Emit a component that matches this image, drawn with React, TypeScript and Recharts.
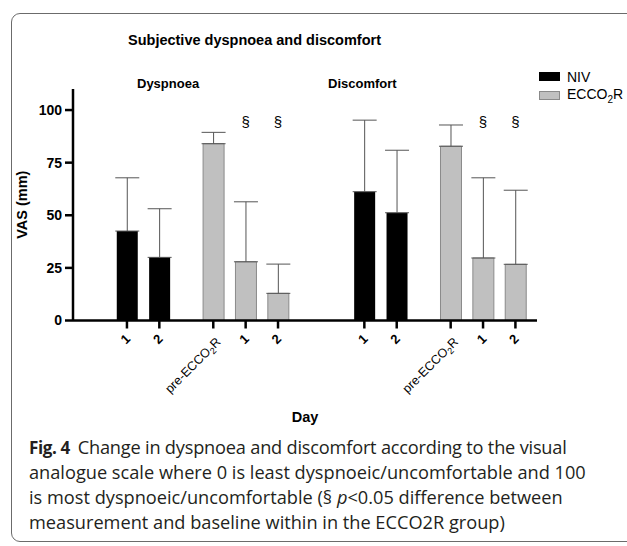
import React from 'react';
import {
    BarChart,
    Bar,
    XAxis,
    YAxis,
    ErrorBar,
    ReferenceDot,
    Legend
} from 'recharts';

const panels = ['Dyspnoea', 'Discomfort'];
const seriesNames = ['NIV', 'ECCO2R'];
const dayLabels = ['1', '2', 'pre-ECCO2R', '1', '2'];
const dayGroups = ['NIV', 'NIV', 'ECCO2R', 'ECCO2R', 'ECCO2R'];
const dyspnoeaMean = [42.5, 30.0, 84.0, 27.9, 12.9];
const dyspnoeaSD = [25.3, 23.1, 5.4, 28.5, 13.9];
const discomfortMean = [61.2, 51.2, 82.8, 29.7, 26.7];
const discomfortSD = [34.0, 29.7, 10.1, 38.1, 35.2];
const significant = [false, false, false, true, true];
const yTicks = [0, 25, 50, 75, 100];

const FONT = '"Liberation Sans", Arial, Helvetica, sans-serif';
const NIV_FILL = '#000000';
const ECCO_FILL = '#c0c0c0';
const ECCO_STROKE = '#8a8a8a';
const ERR_COLOR = '#555555';

// slot layout on the numeric x axis (grid units)
const FIRST = 5;
const STEP = 3;
const GROUP_GAP = 5;
const PANEL_SPAN = 22;
const X_MAX = 43;
const SIG_Y = 94.5;

const slotPos = (panel: number, i: number) =>
    FIRST + panel * PANEL_SPAN + i * STEP + (i >= 2 ? GROUP_GAP - STEP : 0);

const means = [dyspnoeaMean, discomfortMean];
const sds = [dyspnoeaSD, discomfortSD];

const rows = panels.flatMap((_, p) =>
    dayLabels.map((label, i) => {
        const isNiv = dayGroups[i] === 'NIV';
        return {
            pos: slotPos(p, i),
            label,
            niv: isNiv ? means[p][i] : null,
            nivErr: isNiv ? [0, sds[p][i]] : null,
            ecco: !isNiv ? means[p][i] : null,
            eccoErr: !isNiv ? [0, sds[p][i]] : null,
            sig: significant[i]
        };
    })
);

const tickPositions = rows.map((r) => r.pos);
const labelAt = new Map(rows.map((r) => [r.pos, r.label]));

function DayTick(props: any) {
    const { x, y, payload } = props;
    const label = labelAt.get(payload.value) || '';
    if (label.startsWith('pre-')) {
        const ax = x + 5;
        const ay = y + 9;
        return (
            <text
                x={ax}
                y={ay}
                dy="0.35em"
                textAnchor="end"
                transform={`rotate(-45 ${ax} ${ay})`}
                fontFamily={FONT}
                fontSize={12.5}
                fill="#000"
            >
                <tspan>pre-ECCO</tspan>
                <tspan fontSize={9} dy={3}>2</tspan>
                <tspan dy={-3}>R</tspan>
            </text>
        );
    }
    const ax = x + 1;
    const ay = y + 6;
    return (
        <text
            x={ax}
            y={ay}
            dy="0.35em"
            textAnchor="end"
            transform={`rotate(-45 ${ax} ${ay})`}
            fontFamily={FONT}
            fontSize={13}
            fontWeight="bold"
            fill="#000"
        >
            {label}
        </text>
    );
}

function SeriesName({ name }: { name: string }) {
    if (name === 'ECCO2R') {
        return (
            <span>
                ECCO<sub style={{ fontSize: 10 }}>2</sub>R
            </span>
        );
    }
    return <span>{name}</span>;
}

function renderLegend(props: any) {
    const items = [...(props.payload || [])].sort(
        (a: any, b: any) => seriesNames.indexOf(a.value) - seriesNames.indexOf(b.value)
    );
    return (
        <div style={{ fontFamily: FONT, fontSize: 14, color: '#000' }}>
            {items.map((entry: any) => {
                const isNiv = entry.value === 'NIV';
                return (
                    <div
                        key={entry.value}
                        style={{ display: 'flex', alignItems: 'center', height: 19, whiteSpace: 'nowrap' }}
                    >
                        <div
                            style={{
                                width: 21,
                                height: 9,
                                boxSizing: 'border-box',
                                background: isNiv ? NIV_FILL : ECCO_FILL,
                                border: `1px solid ${isNiv ? NIV_FILL : ECCO_STROKE}`,
                                marginRight: 7
                            }}
                        />
                        <SeriesName name={entry.value} />
                    </div>
                );
            })}
        </div>
    );
}

const sectionMark = (p: any) => (
    <text
        x={p.cx}
        y={p.cy}
        textAnchor="middle"
        dominantBaseline="central"
        fontFamily={FONT}
        fontSize={15}
        fill="#000"
    >
        §
    </text>
);

export default function App() {
    return (
        <div
            style={{
                position: 'absolute',
                left: 0,
                top: 0,
                width: 627,
                height: 546,
                overflow: 'hidden',
                background: '#fff'
            }}
        >
            {/* figure frame */}
            <div
                style={{
                    position: 'absolute',
                    left: 11,
                    top: 13,
                    width: 700,
                    height: 527,
                    border: '1px solid #6b6b6b',
                    borderRadius: 9
                }}
            />

            <div
                style={{
                    position: 'absolute',
                    left: 0,
                    top: 33,
                    width: 509,
                    textAlign: 'center',
                    fontFamily: FONT,
                    fontWeight: 'bold',
                    fontSize: 14.5,
                    lineHeight: '14.5px',
                    color: '#000'
                }}
            >
                Subjective dyspnoea and discomfort
            </div>
            <div style={{ position: 'absolute', left: 137, top: 77, fontFamily: FONT, fontWeight: 'bold', fontSize: 13, lineHeight: '13px' }}>
                {panels[0]}
            </div>
            <div style={{ position: 'absolute', left: 328, top: 77, fontFamily: FONT, fontWeight: 'bold', fontSize: 13, lineHeight: '13px' }}>
                {panels[1]}
            </div>

            <div style={{ position: 'absolute', left: 0, top: 0 }}>
                <BarChart
                    width={627}
                    height={546}
                    data={rows}
                    margin={{ top: 89, right: 90, bottom: 125.5, left: 13 }}
                >
                    <XAxis
                        type="number"
                        dataKey="pos"
                        domain={[0, X_MAX]}
                        ticks={tickPositions}
                        interval={0}
                        height={100}
                        stroke="#000"
                        axisLine={{ stroke: '#000', strokeWidth: 2.5 }}
                        tickLine={{ stroke: '#000', strokeWidth: 2.5 }}
                        tickSize={8}
                        tick={<DayTick />}
                        label={{
                            value: 'Day',
                            position: 'insideBottom',
                            offset: -1,
                            style: { fontFamily: FONT, fontWeight: 'bold', fontSize: 14.5, fill: '#000' }
                        }}
                    />
                    <YAxis
                        type="number"
                        domain={[0, 110]}
                        ticks={yTicks}
                        width={60}
                        axisLine={{ stroke: '#000', strokeWidth: 2.5 }}
                        tickLine={{ stroke: '#000', strokeWidth: 2.5 }}
                        tickSize={8}
                        tickMargin={3}
                        tick={{ fill: '#000', fontSize: 14, fontWeight: 'bold', fontFamily: FONT }}
                        label={{
                            value: 'VAS (mm)',
                            angle: -90,
                            position: 'insideLeft',
                            offset: 9,
                            style: { textAnchor: 'middle', fontFamily: FONT, fontWeight: 'bold', fontSize: 14.5, fill: '#000' }
                        }}
                    />
                    <Legend
                        layout="vertical"
                        align="center"
                        verticalAlign="middle"
                        wrapperStyle={{ left: 539, top: 67, width: 120 }}
                        content={renderLegend}
                    />
                    <Bar dataKey="niv" name="NIV" stackId="a" fill={NIV_FILL} barSize={21} isAnimationActive={false}>
                        <ErrorBar dataKey="nivErr" direction="y" width={12} stroke={ERR_COLOR} strokeWidth={1} />
                    </Bar>
                    <Bar
                        dataKey="ecco"
                        name="ECCO2R"
                        stackId="a"
                        fill={ECCO_FILL}
                        stroke={ECCO_STROKE}
                        strokeWidth={1}
                        barSize={21}
                        isAnimationActive={false}
                    >
                        <ErrorBar dataKey="eccoErr" direction="y" width={12} stroke={ERR_COLOR} strokeWidth={1} />
                    </Bar>
                    {rows
                        .filter((r) => r.sig)
                        .map((r) => (
                            <ReferenceDot
                                key={`sig-${r.pos}`}
                                x={r.pos}
                                y={SIG_Y}
                                r={0}
                                ifOverflow="visible"
                                shape={sectionMark}
                            />
                        ))}
                </BarChart>
            </div>

            <div
                style={{
                    position: 'absolute',
                    left: 29,
                    top: 435,
                    fontFamily: '"Open Sans", sans-serif',
                    fontSize: 18.2,
                    lineHeight: '25px',
                    color: '#231f20',
                    whiteSpace: 'nowrap'
                }}
            >
                <div>
                    <b style={{ marginRight: 8, fontSize: 17, letterSpacing: -0.4 }}>Fig. 4</b>
                    <span style={{ letterSpacing: -0.2 }}>Change in dyspnoea and discomfort according to the visual</span>
                </div>
                <div>analogue scale where 0 is least dyspnoeic/uncomfortable and 100</div>
                <div>
                    is most dyspnoeic/uncomfortable (§ <i>p</i>&lt;0.05 difference between
                </div>
                <div>measurement and baseline within in the ECCO2R group)</div>
            </div>
        </div>
    );
}
